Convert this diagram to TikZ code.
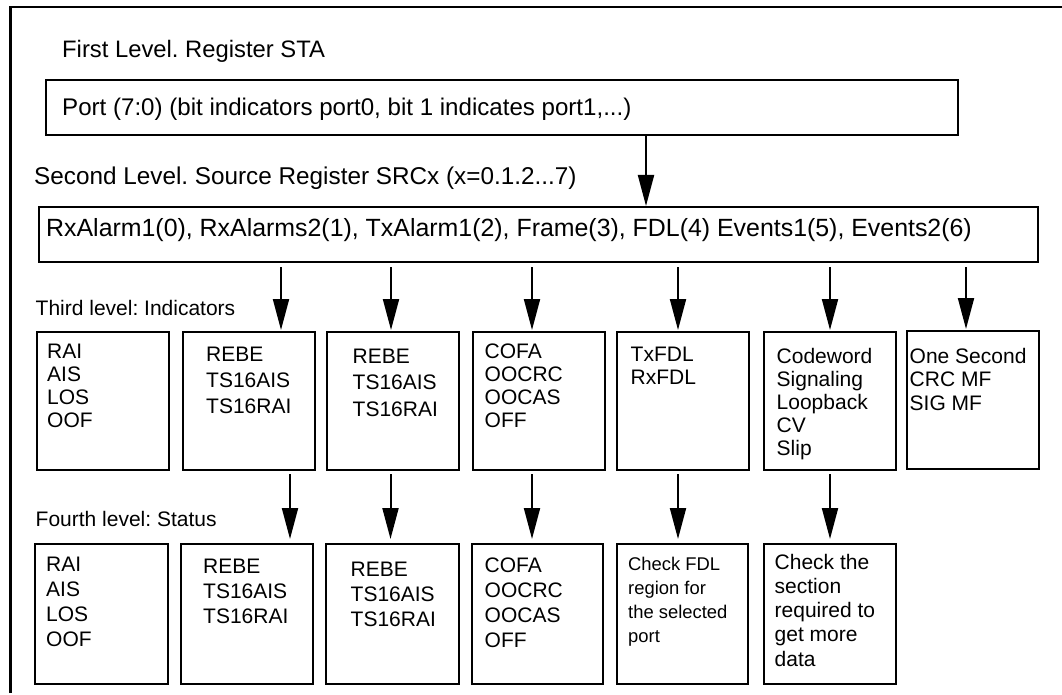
\documentclass[tikz,border=0pt]{standalone}
\usepackage{fontspec}
\setmainfont{Liberation Sans}
\usetikzlibrary{arrows.meta}
\frenchspacing
% one left-aligned column whose reference point is the first baseline
\newcommand\cellstack[1]{\begin{tabular}[t]{@{}l@{}}#1\end{tabular}}

\begin{document}
\begin{tikzpicture}[x=1pt,y=-1pt,
  frame/.style={line width=2.7pt},
  box/.style={draw,line width=2pt,anchor=north west,inner sep=0pt},
  cellbox/.style={box,minimum width=132pt,minimum height=138pt},
  statbox/.style={box,minimum width=132pt,minimum height=140pt},
  bigtext/.style={anchor=base west,inner sep=0pt,font=\fontsize{#1}{28}\selectfont},
  bigtext/.default=24.2,
  smalltext/.style={anchor=base west,inner sep=0pt,font=\fontsize{21}{24.5}\selectfont},
  cell/.style={anchor=base west,inner sep=0pt,font=\fontsize{21}{#1}\selectfont},
  cell/.default=23,
  arr/.style={line width=2pt,-{Triangle[length=31pt,width=16pt]}}]

\useasboundingbox (0,0) rectangle (1062,695);

% outer frame: only the left and top edges show
\draw[frame] (10.5,693) -- (10.5,7) -- (1062,7);

% first level
\node[bigtext=23.8] (l1) at (62,58) {First Level. Register STA};
\node[box,minimum width=912pt,minimum height=55pt] (sta) at (45,79) {};
\node[bigtext=24.1] (statxt) at (62,116) {Port (7:0) (bit indicators port0, bit 1 indicates port1,...)};

% second level
\node[bigtext=24.3] (l2) at (34,185) {Second Level. Source Register SRCx (x=0.1.2...7)};
\node[box,minimum width=999pt,minimum height=55pt] (src) at (38,206) {};
\node[bigtext=24.9] (srctxt) at (46,236) {RxAlarm1(0), RxAlarms2(1), TxAlarm1(2), Frame(3), FDL(4) Events1(5), Events2(6)};

\draw[arr] (sta.south -| 646,0) -- (src.north -| 646,0);

% third level
\node[smalltext] (l3) at (35.5,315.5) {Third level: Indicators};
\node[cellbox] (ia) at (36,331) {};
\node[cellbox] (ib) at (181.5,331) {};
\node[cellbox] (ic) at (325.5,331) {};
\node[cellbox] (id) at (471.5,331) {};
\node[cellbox] (ie) at (616,331) {};
\node[cellbox] (if) at (762.5,331) {};
\node[cellbox] (ig) at (906,330) {};

\node[cell] (iat) at (47,358) {\cellstack{RAI\\AIS\\LOS\\OOF}};
\node[cell=26] (ibt) at (206,361) {\cellstack{REBE\\TS16AIS\\TS16RAI}};
\node[cell=26.5] (ict) at (352.5,363) {\cellstack{REBE\\TS16AIS\\TS16RAI}};
\node[cell] (idt) at (484.5,358) {\cellstack{COFA\\OOCRC\\OOCAS\\OFF}};
\node[cell=23] (iet) at (630.5,361) {\cellstack{TxFDL\\RxFDL}};
\node[cell=23] (ift) at (776.5,363) {\cellstack{Codeword\\Signaling\\Loopback\\CV\\Slip}};
\node[cell=23.5] (igt) at (909.5,363) {\cellstack{One Second\\CRC MF\\SIG MF}};

\foreach \n/\x in {ib/281,ic/391,id/532,ie/678,if/830,ig/966}
  \draw[arr] ([yshift=-4pt]src.south -| \x,0) -- ([yshift=1pt]\n.north -| \x,0);

% fourth level
\node[smalltext] (l4) at (35.5,526) {Fourth level: Status};
\node[statbox,minimum width=133pt] (sa) at (33.5,543) {};
\node[statbox] (sb) at (180,543) {};
\node[statbox,minimum width=133pt] (sc) at (325,543) {};
\node[statbox,minimum width=131pt] (sd) at (471,543) {};
\node[statbox,minimum width=131pt] (se) at (616,543) {};
\node[statbox] (sf) at (762.5,543) {};

\node[cell=25.3] (sat) at (46,571) {\cellstack{RAI\\AIS\\LOS\\OOF}};
\node[cell=25.3] (sbt) at (203,573) {\cellstack{REBE\\TS16AIS\\TS16RAI}};
\node[cell=25.3] (sct) at (350.5,576) {\cellstack{REBE\\TS16AIS\\TS16RAI}};
\node[cell=25.3] (sdt) at (484.5,572) {\cellstack{COFA\\OOCRC\\OOCAS\\OFF}};
\node[anchor=base west,inner sep=0pt,font=\fontsize{18.4}{24.3}\selectfont] (set) at (628,570)
  {\cellstack{Check FDL\\region for\\the selected\\port}};
\node[cell=24.3] (sft) at (774.5,569) {\cellstack{Check the\\section\\required to\\get more\\data}};

\foreach \a/\b/\x in {ib/sb/290,ic/sc/390.5,id/sd/532,ie/se/678,if/sf/830}
  \draw[arr] ([yshift=-3pt]\a.south -| \x,0) -- ([yshift=4pt]\b.north -| \x,0);

\end{tikzpicture}
\end{document}
